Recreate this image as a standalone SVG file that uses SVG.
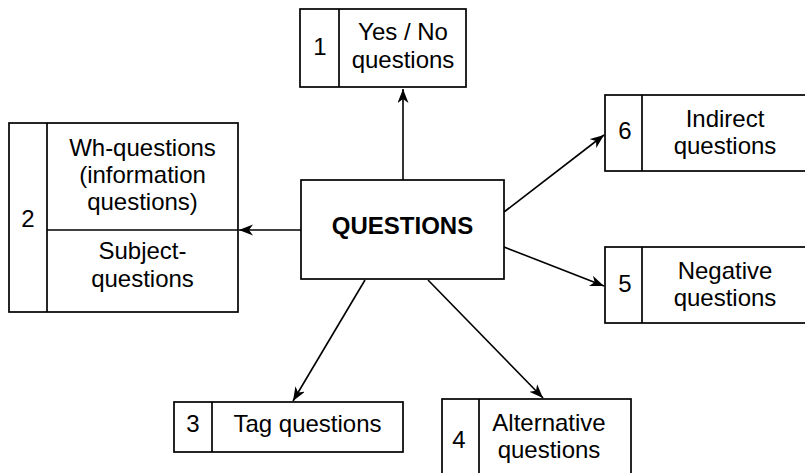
<svg xmlns="http://www.w3.org/2000/svg" width="805" height="473" viewBox="0 0 805 473">
<style>
.box{fill:#fff;stroke:#000;stroke-width:1.7}
.ln{stroke:#000;stroke-width:1.7;fill:none}
.t{font-family:"Liberation Sans",Arial,sans-serif;font-size:24px;fill:#000;text-anchor:middle}
.b{font-family:"Liberation Sans",Arial,sans-serif;font-size:24px;font-weight:bold;fill:#000;text-anchor:middle}
.c{stroke:#000;stroke-width:1.6;fill:none;marker-end:url(#ah)}
</style>
<defs>
<marker id="ah" markerWidth="16" markerHeight="12" refX="14" refY="5.5" orient="auto" markerUnits="userSpaceOnUse">
<path d="M0,0 L14,5.5 L0,11 L4,5.5 Z" fill="#000"/>
</marker>
</defs>
<g id="connectors">
<line class="c" x1="403" y1="180" x2="403" y2="89"/>
<line class="c" x1="301" y1="230" x2="239" y2="230"/>
<line class="c" x1="504" y1="212" x2="604" y2="135"/>
<line class="c" x1="504" y1="247" x2="604" y2="286"/>
<line class="c" x1="365" y1="280" x2="293" y2="401"/>
<line class="c" x1="428" y1="280" x2="543" y2="398"/>
</g>
<g id="node-questions">
<rect class="box" x="301" y="180" width="203" height="99"/>
<text class="b" x="402.5" y="234">QUESTIONS</text>
</g>
<g id="node-1">
<rect class="box" x="300" y="9" width="166" height="78"/>
<line class="ln" x1="339" y1="9" x2="339" y2="87"/>
<text class="t" x="320" y="55">1</text>
<text class="t" x="403" y="40">Yes / No</text>
<text class="t" x="403" y="68">questions</text>
</g>
<g id="node-2">
<rect class="box" x="9" y="123" width="229" height="189"/>
<line class="ln" x1="47" y1="123" x2="47" y2="312"/>
<line class="ln" x1="47" y1="230" x2="238" y2="230"/>
<text class="t" x="28" y="227">2</text>
<text class="t" x="142.5" y="156">Wh-questions</text>
<text class="t" x="142.5" y="183">(information</text>
<text class="t" x="142.5" y="210">questions)</text>
<text class="t" x="142.5" y="259">Subject-</text>
<text class="t" x="142.5" y="287">questions</text>
</g>
<g id="node-6">
<rect class="box" x="605" y="95" width="220" height="76"/>
<line class="ln" x1="642" y1="95" x2="642" y2="171"/>
<text class="t" x="625" y="139">6</text>
<text class="t" x="725" y="127">Indirect</text>
<text class="t" x="725" y="154">questions</text>
</g>
<g id="node-5">
<rect class="box" x="605" y="247" width="220" height="76"/>
<line class="ln" x1="642" y1="247" x2="642" y2="323"/>
<text class="t" x="625" y="292">5</text>
<text class="t" x="725" y="279">Negative</text>
<text class="t" x="725" y="306">questions</text>
</g>
<g id="node-3">
<rect class="box" x="174" y="402" width="229" height="50"/>
<line class="ln" x1="212" y1="402" x2="212" y2="452"/>
<text class="t" x="193" y="432">3</text>
<text class="t" x="307.5" y="432">Tag questions</text>
</g>
<g id="node-4">
<rect class="box" x="442" y="399" width="189" height="90"/>
<line class="ln" x1="479" y1="399" x2="479" y2="489"/>
<text class="t" x="459" y="448">4</text>
<text class="t" x="549" y="431">Alternative</text>
<text class="t" x="549" y="458">questions</text>
</g>
</svg>
